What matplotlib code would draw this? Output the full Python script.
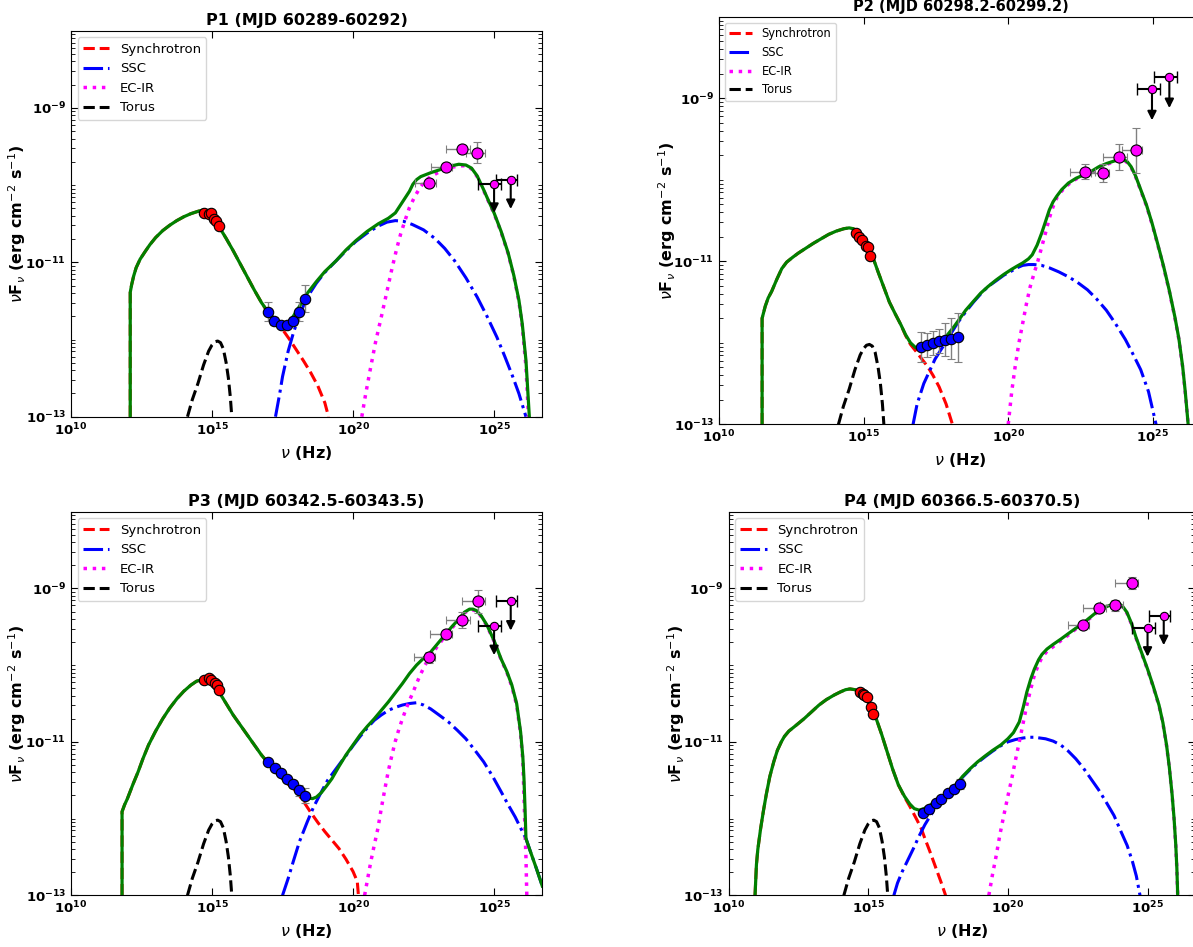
import numpy as np
import matplotlib
matplotlib.use('Agg')
import matplotlib.pyplot as plt
from matplotlib.ticker import FixedLocator, LogLocator, NullLocator, NullFormatter

# all values are log10(nu / Hz) and log10(nuFnu / erg cm^-2 s^-1)

# torus component (same in every period)
torus_x = [14.13, 14.3, 14.5, 14.7, 14.88, 15.0, 15.1, 15.2, 15.3, 15.4, 15.5, 15.58, 15.65, 15.7]
torus_y = [-13.0, -12.78, -12.57, -12.33, -12.15, -12.07, -12.03, -12.02, -12.04, -12.12, -12.3, -12.5,
           -12.75, -13.0]

# ---------------- P1 ----------------
p1_tot_x = [12.1, 12.1, 12.15, 12.22, 12.31, 12.45, 12.63, 12.8, 13.0, 13.25, 13.5, 13.75, 14.0, 14.25, 14.5,
            14.7, 14.85, 15.0, 15.25, 15.5, 15.75, 16.0, 16.25, 16.5, 16.75, 17.0, 17.25, 17.5, 17.7, 17.88,
            18.1, 18.38, 18.7, 19.0, 19.4, 19.75, 20.1, 20.5, 20.9, 21.25, 21.5, 21.75, 22.0, 22.12, 22.25,
            22.4, 22.75, 23.0, 23.25, 23.5, 23.75, 24.0, 24.2, 24.4, 24.63, 24.8, 25.0, 25.25, 25.5, 25.7,
            25.88, 26.0, 26.13, 26.25]
p1_tot_y = [-13.0, -11.39, -11.29, -11.18, -11.07, -10.96, -10.86, -10.77, -10.68, -10.59, -10.52, -10.46,
            -10.41, -10.37, -10.34, -10.32, -10.34, -10.40, -10.54, -10.69, -10.85, -11.02, -11.19, -11.36,
            -11.52, -11.65, -11.75, -11.80, -11.78, -11.70, -11.57, -11.40, -11.25, -11.12, -10.98, -10.84,
            -10.72, -10.60, -10.50, -10.43, -10.36, -10.22, -10.08, -9.99, -9.93, -9.89, -9.84, -9.81,
            -9.78, -9.75, -9.73, -9.74, -9.78, -9.88, -10.06, -10.20, -10.36, -10.60, -10.88, -11.17,
            -11.49, -11.80, -12.27, -13.0]
p1_syn_x = [12.1, 12.1, 12.15, 12.22, 12.31, 12.45, 12.63, 12.8, 13.0, 13.25, 13.5, 13.75, 14.0, 14.25, 14.5,
            14.7, 14.85, 15.0, 15.25, 15.5, 15.75, 16.0, 16.25, 16.5, 16.75, 17.0, 17.25, 17.5, 17.75, 18.0,
            18.25, 18.5, 18.75, 19.0, 19.13]
p1_syn_y = [-13.0, -11.39, -11.29, -11.18, -11.07, -10.96, -10.86, -10.77, -10.68, -10.59, -10.52, -10.46,
            -10.41, -10.37, -10.34, -10.32, -10.34, -10.40, -10.54, -10.69, -10.85, -11.02, -11.19, -11.36,
            -11.52, -11.66, -11.76, -11.87, -12.0, -12.14, -12.28, -12.43, -12.6, -12.82, -13.0]
p1_ssc_x = [17.25, 17.4, 17.5, 17.7, 17.88, 18.1, 18.38, 18.7, 19.0, 19.4, 19.75, 20.1, 20.5, 20.9, 21.2,
            21.5, 21.8, 22.1, 22.5, 22.9, 23.25, 23.6, 24.0, 24.4, 24.75, 25.1, 25.38, 25.65, 25.88, 26.13]
p1_ssc_y = [-13.0, -12.7, -12.48, -12.15, -11.92, -11.68, -11.45, -11.27, -11.13, -10.98, -10.85, -10.73,
            -10.62, -10.53, -10.48, -10.46, -10.47, -10.51, -10.58, -10.69, -10.82, -10.98, -11.2, -11.45,
            -11.7, -11.97, -12.22, -12.47, -12.70, -13.0]
p1_ec_x = [20.31, 20.45, 20.63, 20.8, 21.0, 21.2, 21.38, 21.55, 21.69, 21.85, 22.0, 22.2, 22.38, 22.55, 22.75,
           23.0, 23.25, 23.5, 23.75, 24.0, 24.2, 24.4, 24.63, 24.8, 25.0, 25.25, 25.5, 25.7, 25.88, 26.0, 26.13,
           26.22]
p1_ec_y = [-13.0, -12.7, -12.35, -12.03, -11.71, -11.38, -11.08, -10.82, -10.63, -10.45, -10.29, -10.14,
           -10.03, -9.95, -9.89, -9.84, -9.80, -9.77, -9.75, -9.75, -9.79, -9.89, -10.07, -10.21, -10.37,
           -10.61, -10.89, -11.18, -11.51, -11.83, -12.35, -13.0]
p1_opt_x = [14.73, 14.88, 14.98, 15.06, 15.15, 15.23]
p1_opt_y = [-10.36, -10.37, -10.36, -10.44, -10.46, -10.53]
p1_xr_x = [17.0, 17.19, 17.44, 17.65, 17.88, 18.1, 18.31]
p1_xr_y = [-11.64, -11.76, -11.81, -11.81, -11.76, -11.64, -11.47]
p1_xr_err = [0.12, 0.05, 0.03, 0.03, 0.05, 0.12, 0.18]
p1_gam_x = [22.69, 23.28, 23.85, 24.41]
p1_gam_y = [-9.97, -9.77, -9.53, -9.58]
p1_gam_xlo = [0.5, 0.53, 0.54, 0.41]
p1_gam_xhi = [0.25, 0.22, 0.28, 0.28]
p1_gam_err = [0.05, 0.05, 0.055, 0.14]
p1_ul_x = [25.0, 25.59]
p1_ul_y = [-9.98, -9.93]
p1_ul_xlo = [0.56, 0.52]
p1_ul_xhi = [0.25, 0.23]

# ---------------- P2 ----------------
p2_tot_x = [11.49, 11.49, 11.6, 11.7, 11.82, 12.0, 12.17, 12.34, 12.55, 12.74, 13.0, 13.26, 13.5, 13.79, 14.05,
            14.32, 14.5, 14.64, 14.8, 14.97, 15.1, 15.24, 15.4, 15.5, 15.7, 15.89, 16.1, 16.29, 16.45, 16.62,
            16.8, 16.95, 17.15, 17.34, 17.55, 17.74, 17.95, 18.13, 18.35, 18.53, 18.8, 19.05, 19.3, 19.58,
            19.85, 20.11, 20.3, 20.5, 20.7, 20.83, 21.0, 21.16, 21.3, 21.42, 21.55, 21.68, 21.85, 22.08, 22.35,
            22.61, 22.9, 23.13, 23.4, 23.66, 23.85, 23.99, 24.12, 24.25, 24.4, 24.58, 24.78, 24.97, 25.17,
            25.37, 25.57, 25.76, 25.9, 26.03, 26.12, 26.22]
p2_tot_y = [-13.0, -11.70, -11.55, -11.45, -11.37, -11.22, -11.09, -11.01, -10.95, -10.90, -10.84, -10.78,
            -10.73, -10.67, -10.63, -10.60, -10.59, -10.60, -10.63, -10.69, -10.77, -10.88, -11.03, -11.13,
            -11.32, -11.50, -11.65, -11.78, -11.90, -12.0, -12.06, -12.08, -12.08, -12.06, -12.02, -11.97,
            -11.88, -11.80, -11.69, -11.60, -11.49, -11.39, -11.31, -11.23, -11.16, -11.10, -11.06, -11.02,
            -10.97, -10.92, -10.80, -10.65, -10.50, -10.37, -10.27, -10.20, -10.12, -10.04, -9.98, -9.94,
            -9.89, -9.84, -9.80, -9.77, -9.75, -9.75, -9.78, -9.84, -9.95, -10.12, -10.31, -10.53, -10.79,
            -11.06, -11.36, -11.68, -11.95, -12.29, -12.6, -13.0]
p2_syn_x = [11.49, 11.49, 11.6, 11.7, 11.82, 12.0, 12.17, 12.34, 12.55, 12.74, 13.0, 13.26, 13.5, 13.79, 14.05,
            14.32, 14.5, 14.64, 14.8, 14.97, 15.1, 15.24, 15.4, 15.5, 15.7, 15.89, 16.1, 16.29, 16.45, 16.62,
            16.8, 16.95, 17.21, 17.4, 17.61, 17.85, 18.07]
p2_syn_y = [-13.0, -11.70, -11.55, -11.45, -11.37, -11.22, -11.09, -11.01, -10.95, -10.90, -10.84, -10.78,
            -10.73, -10.67, -10.63, -10.60, -10.59, -10.60, -10.63, -10.69, -10.77, -10.88, -11.03, -11.13,
            -11.32, -11.50, -11.65, -11.78, -11.91, -12.02, -12.1, -12.17, -12.29, -12.4, -12.54, -12.75, -13.0]
p2_ssc_x = [16.71, 16.85, 17.08, 17.3, 17.47, 17.7, 17.87, 18.05, 18.26, 18.53, 18.8, 19.05, 19.3, 19.58,
            19.85, 20.11, 20.3, 20.5, 20.7, 20.89, 21.15, 21.42, 21.75, 22.08, 22.4, 22.74, 23.05, 23.39, 23.7,
            24.05, 24.3, 24.58, 24.85, 25.11]
p2_ssc_y = [-13.0, -12.75, -12.5, -12.33, -12.2, -12.07, -11.98, -11.87, -11.75, -11.62, -11.5, -11.40,
            -11.31, -11.24, -11.17, -11.12, -11.08, -11.05, -11.04, -11.04, -11.05, -11.08, -11.13, -11.19,
            -11.26, -11.35, -11.46, -11.60, -11.76, -11.96, -12.13, -12.33, -12.6, -13.0]
p2_ec_x = [20.0, 20.12, 20.24, 20.37, 20.5, 20.63, 20.76, 20.9, 21.03, 21.16, 21.29, 21.42, 21.55, 21.68, 21.82,
           22.0, 22.21, 22.4, 22.61, 22.9, 23.13, 23.4, 23.66, 23.85, 23.99, 24.12, 24.25, 24.4, 24.58, 24.78,
           24.97, 25.17, 25.37, 25.57, 25.76, 25.9, 26.03, 26.12, 26.22]
p2_ec_y = [-13.0, -12.6, -12.29, -12.0, -11.76, -11.52, -11.31, -11.14, -10.99, -10.82, -10.65, -10.47,
           -10.33, -10.22, -10.15, -10.08, -10.02, -9.98, -9.95, -9.90, -9.85, -9.81, -9.78, -9.76, -9.76,
           -9.79, -9.85, -9.96, -10.13, -10.32, -10.54, -10.80, -11.07, -11.37, -11.69, -11.96, -12.30,
           -12.61, -13.0]
p2_opt_x = [14.74, 14.84, 14.95, 15.08, 15.16, 15.21]
p2_opt_y = [-10.65, -10.70, -10.74, -10.81, -10.82, -10.94]
p2_xr_x = [16.97, 17.18, 17.39, 17.61, 17.82, 18.03, 18.26]
p2_xr_y = [-12.05, -12.03, -12.00, -11.98, -11.96, -11.95, -11.93]
p2_xr_err = [0.18, 0.15, 0.15, 0.15, 0.2, 0.25, 0.3]
p2_gam_x = [22.67, 23.26, 23.83, 24.41]
p2_gam_y = [-9.90, -9.92, -9.72, -9.64]
p2_gam_xlo = [0.53, 0.39, 0.57, 0.49]
p2_gam_xhi = [0.33, 0.24, 0.29, 0.23]
p2_gam_err = [0.09, 0.11, 0.16, 0.28]
p2_ul_x = [24.97, 25.57]
p2_ul_y = [-8.89, -8.74]
p2_ul_xlo = [0.52, 0.53]
p2_ul_xhi = [0.27, 0.26]

# ---------------- P3 ----------------
p3_tot_x = [11.81, 11.81, 11.9, 12.0, 12.2, 12.38, 12.55, 12.75, 13.0, 13.25, 13.5, 13.75, 14.0, 14.25, 14.45,
            14.63, 14.8, 14.95, 15.1, 15.25, 15.5, 15.75, 16.0, 16.25, 16.5, 16.75, 17.0, 17.25, 17.5, 17.75,
            18.0, 18.25, 18.4, 18.56, 18.7, 18.88, 19.05, 19.25, 19.5, 19.75, 20.0, 20.25, 20.5, 20.75, 21.0,
            21.25, 21.5, 21.75, 22.0, 22.25, 22.5, 22.75, 23.0, 23.25, 23.5, 23.75, 23.95, 24.13, 24.25, 24.38,
            24.55, 24.75, 25.0, 25.25, 25.45, 25.63, 25.8, 25.94, 26.02, 26.06, 26.1, 26.13, 26.25, 26.5,
            26.71]
p3_tot_y = [-13.0, -11.91, -11.82, -11.74, -11.55, -11.39, -11.22, -11.04, -10.86, -10.70, -10.56, -10.44,
            -10.34, -10.26, -10.21, -10.19, -10.18, -10.20, -10.26, -10.35, -10.50, -10.65, -10.78, -10.91,
            -11.04, -11.17, -11.28, -11.39, -11.48, -11.56, -11.63, -11.69, -11.73, -11.74, -11.72, -11.66,
            -11.58, -11.48, -11.32, -11.17, -11.04, -10.91, -10.80, -10.70, -10.59, -10.48, -10.36, -10.24,
            -10.11, -10.0, -9.91, -9.83, -9.72, -9.61, -9.50, -9.40, -9.31, -9.27, -9.27, -9.29, -9.36, -9.48,
            -9.68, -9.92, -10.08, -10.26, -10.50, -10.87, -11.2, -11.48, -11.9, -12.26, -12.39, -12.65, -12.88]
p3_syn_x = [11.81, 11.81, 11.9, 12.0, 12.2, 12.38, 12.55, 12.75, 13.0, 13.25, 13.5, 13.75, 14.0, 14.25, 14.45,
            14.63, 14.8, 14.95, 15.1, 15.25, 15.5, 15.75, 16.0, 16.25, 16.5, 16.75, 17.0, 17.25, 17.5, 17.75,
            18.0, 18.25, 18.5, 18.75, 19.0, 19.25, 19.5, 19.75, 20.0, 20.15, 20.19]
p3_syn_y = [-13.0, -11.91, -11.82, -11.74, -11.55, -11.39, -11.22, -11.04, -10.86, -10.70, -10.56, -10.44,
            -10.34, -10.26, -10.21, -10.19, -10.18, -10.20, -10.26, -10.35, -10.50, -10.65, -10.78, -10.91,
            -11.04, -11.17, -11.28, -11.39, -11.48, -11.57, -11.65, -11.78, -11.92, -12.05, -12.17, -12.28,
            -12.39, -12.53, -12.69, -12.82, -13.0]
p3_ssc_x = [17.5, 17.7, 17.88, 18.1, 18.38, 18.6, 18.88, 19.1, 19.38, 19.6, 19.75, 20.0, 20.25, 20.5, 20.75,
            21.0, 21.25, 21.5, 21.75, 22.0, 22.25, 22.5, 22.75, 23.05, 23.38, 23.7, 24.0, 24.3, 24.63, 24.95,
            25.25, 25.5, 25.75, 25.95, 26.13, 26.25, 26.5, 26.71]
p3_ssc_y = [-13.0, -12.78, -12.56, -12.3, -12.04, -11.85, -11.65, -11.5, -11.36, -11.25, -11.18, -11.05,
            -10.93, -10.82, -10.72, -10.65, -10.59, -10.55, -10.52, -10.50, -10.49, -10.52, -10.57, -10.65,
            -10.74, -10.85, -10.96, -11.1, -11.26, -11.45, -11.65, -11.82, -11.98, -12.13, -12.26, -12.39,
            -12.65, -12.88]
p3_ec_x = [20.41, 20.52, 20.63, 20.75, 20.88, 21.0, 21.13, 21.25, 21.38, 21.5, 21.63, 21.75, 21.88, 22.0, 22.13,
           22.25, 22.38, 22.55, 22.75, 23.0, 23.25, 23.5, 23.75, 23.95, 24.13, 24.25, 24.38, 24.55, 24.75, 25.0,
           25.25, 25.45, 25.63, 25.8, 25.94, 26.02, 26.06, 26.1, 26.13, 26.16]
p3_ec_y = [-13.0, -12.78, -12.56, -12.35, -12.13, -11.87, -11.61, -11.38, -11.17, -10.99, -10.83, -10.7,
           -10.57, -10.46, -10.35, -10.24, -10.13, -10.0, -9.88, -9.75, -9.63, -9.52, -9.41, -9.32, -9.28,
           -9.28, -9.30, -9.37, -9.49, -9.69, -9.93, -10.09, -10.28, -10.52, -10.9, -11.25, -11.70, -12.2,
           -12.5, -13.0]
p3_opt_x = [14.73, 14.88, 14.98, 15.09, 15.18, 15.23]
p3_opt_y = [-10.20, -10.17, -10.20, -10.23, -10.26, -10.33]
p3_xr_x = [17.0, 17.23, 17.44, 17.65, 17.88, 18.1, 18.31]
p3_xr_y = [-11.26, -11.34, -11.41, -11.48, -11.55, -11.63, -11.70]
p3_xr_err = [0.03, 0.03, 0.03, 0.04, 0.05, 0.07, 0.1]
p3_gam_x = [22.69, 23.29, 23.85, 24.44]
p3_gam_y = [-9.90, -9.59, -9.41, -9.17]
p3_gam_xlo = [0.54, 0.56, 0.54, 0.56]
p3_gam_xhi = [0.21, 0.21, 0.28, 0.25]
p3_gam_err = [0.07, 0.05, 0.1, 0.15]
p3_ul_x = [25.0, 25.59]
p3_ul_y = [-9.49, -9.17]
p3_ul_xlo = [0.56, 0.52]
p3_ul_xhi = [0.25, 0.22]

# ---------------- P4 ----------------
p4_tot_x = [10.95, 11.0, 11.05, 11.15, 11.25, 11.35, 11.48, 11.62, 11.75, 11.89, 12.0, 12.16, 12.4, 12.7, 13.0,
            13.24, 13.5, 13.78, 14.0, 14.19, 14.35, 14.53, 14.7, 14.86, 15.05, 15.27, 15.48, 15.68, 15.88,
            16.08, 16.3, 16.49, 16.65, 16.82, 17.0, 17.16, 17.35, 17.57, 17.77, 17.97, 18.18, 18.38, 18.65,
            18.92, 19.2, 19.46, 19.75, 20.0, 20.2, 20.41, 20.55, 20.68, 20.82, 20.95, 21.1, 21.22, 21.4, 21.62,
            21.9, 22.16, 22.43, 22.7, 22.97, 23.24, 23.45, 23.65, 23.85, 23.99, 24.12, 24.26, 24.42, 24.59,
            24.8, 25.0, 25.2, 25.41, 25.55, 25.68, 25.78, 25.88, 25.95, 26.01, 26.05, 26.08]
p4_tot_y = [-13.0, -12.6, -12.4, -12.13, -11.9, -11.69, -11.45, -11.26, -11.11, -11.0, -10.93, -10.86, -10.79,
            -10.70, -10.60, -10.52, -10.45, -10.39, -10.35, -10.32, -10.31, -10.32, -10.35, -10.40, -10.51,
            -10.68, -10.90, -11.13, -11.36, -11.56, -11.71, -11.81, -11.87, -11.89, -11.87, -11.84, -11.79,
            -11.74, -11.69, -11.63, -11.54, -11.45, -11.35, -11.26, -11.18, -11.11, -11.04, -10.96, -10.88,
            -10.74, -10.55, -10.35, -10.18, -10.05, -9.93, -9.86, -9.79, -9.73, -9.66, -9.59, -9.52, -9.45,
            -9.37, -9.29, -9.25, -9.22, -9.20, -9.20, -9.24, -9.31, -9.45, -9.64, -9.85, -10.05, -10.27,
            -10.52, -10.75, -11.04, -11.33, -11.69, -12.0, -12.34, -12.65, -13.0]
p4_syn_x = [10.95, 11.0, 11.05, 11.15, 11.25, 11.35, 11.48, 11.62, 11.75, 11.89, 12.0, 12.16, 12.4, 12.7, 13.0,
            13.24, 13.5, 13.78, 14.0, 14.19, 14.35, 14.53, 14.7, 14.86, 15.05, 15.27, 15.48, 15.68, 15.88,
            16.08, 16.3, 16.49, 16.62, 16.75, 16.9, 17.03, 17.2, 17.43, 17.6, 17.77]
p4_syn_y = [-13.0, -12.6, -12.4, -12.13, -11.9, -11.69, -11.45, -11.26, -11.11, -11.0, -10.93, -10.86, -10.79,
            -10.70, -10.60, -10.52, -10.45, -10.39, -10.35, -10.32, -10.31, -10.32, -10.35, -10.40, -10.51,
            -10.68, -10.90, -11.13, -11.36, -11.56, -11.72, -11.84, -11.93, -12.02, -12.13, -12.26, -12.42,
            -12.65, -12.82, -13.0]
p4_ssc_x = [15.92, 16.05, 16.22, 16.42, 16.62, 16.82, 17.03, 17.23, 17.43, 17.7, 17.97, 18.18, 18.38, 18.65,
            18.92, 19.2, 19.46, 19.75, 20.0, 20.27, 20.54, 20.75, 20.95, 21.15, 21.35, 21.62, 21.89, 22.16,
            22.43, 22.7, 22.97, 23.24, 23.51, 23.8, 24.05, 24.27, 24.46, 24.6, 24.73]
p4_ssc_y = [-13.0, -12.84, -12.69, -12.54, -12.39, -12.23, -12.08, -11.96, -11.86, -11.75, -11.65, -11.56,
            -11.46, -11.36, -11.27, -11.19, -11.12, -11.05, -11.0, -10.97, -10.95, -10.94, -10.94, -10.95,
            -10.96, -10.99, -11.04, -11.12, -11.22, -11.34, -11.48, -11.62, -11.78, -11.96, -12.17, -12.35,
            -12.56, -12.75, -13.0]
p4_ec_x = [19.32, 19.45, 19.59, 19.72, 19.86, 20.0, 20.14, 20.27, 20.41, 20.55, 20.68, 20.82, 20.95, 21.1, 21.22,
           21.4, 21.62, 21.9, 22.16, 22.43, 22.7, 22.97, 23.24, 23.45, 23.65, 23.85, 23.99, 24.12, 24.26, 24.42,
           24.59, 24.8, 25.0, 25.2, 25.41, 25.55, 25.68, 25.78, 25.88, 25.95, 26.01, 26.05, 26.08]
p4_ec_y = [-13.0, -12.73, -12.47, -12.2, -11.95, -11.71, -11.48, -11.24, -11.0, -10.75, -10.52, -10.31,
           -10.13, -9.99, -9.90, -9.82, -9.76, -9.68, -9.61, -9.53, -9.46, -9.38, -9.30, -9.26, -9.23, -9.21,
           -9.21, -9.25, -9.32, -9.46, -9.65, -9.86, -10.06, -10.28, -10.53, -10.76, -11.05, -11.34, -11.70,
           -12.01, -12.35, -12.66, -13.0]
p4_opt_x = [14.70, 14.80, 14.86, 14.96, 15.09, 15.18]
p4_opt_y = [-10.35, -10.37, -10.39, -10.42, -10.55, -10.64]
p4_xr_x = [16.96, 17.19, 17.41, 17.62, 17.84, 18.07, 18.28]
p4_xr_y = [-11.93, -11.87, -11.80, -11.74, -11.67, -11.61, -11.55]
p4_xr_err = [0.03, 0.03, 0.03, 0.03, 0.04, 0.05, 0.06]
p4_gam_x = [22.68, 23.27, 23.85, 24.43]
p4_gam_y = [-9.48, -9.26, -9.22, -8.93]
p4_gam_xlo = [0.54, 0.57, 0.54, 0.58]
p4_gam_xhi = [0.23, 0.24, 0.27, 0.23]
p4_gam_err = [0.04, 0.04, 0.07, 0.08]
p4_ul_x = [25.0, 25.58]
p4_ul_y = [-9.51, -9.36]
p4_ul_xlo = [0.54, 0.54]
p4_ul_xhi = [0.25, 0.23]

titles = ['P1 (MJD 60289-60292)', 'P2 (MJD 60298.2-60299.2)',
          'P3 (MJD 60342.5-60343.5)', 'P4 (MJD 60366.5-60370.5)']
x_ticks = [1e10, 1e15, 1e20, 1e25]
x_ticklabels = [r'$\mathbf{10^{10}}$', r'$\mathbf{10^{15}}$', r'$\mathbf{10^{20}}$', r'$\mathbf{10^{25}}$']
y_ticks = [1e-13, 1e-11, 1e-9]
y_ticklabels = [r'$\mathbf{10^{-13}}$', r'$\mathbf{10^{-11}}$', r'$\mathbf{10^{-9}}$']
ul_arrow = 0.38  # length of the upper-limit arrows, decades


def lin(v):
    return 10.0 ** np.asarray(v, dtype=float)


def log_err(y, lo, hi):
    y = lin(y)
    return [y - y * 10.0 ** (-np.asarray(lo)), y * 10.0 ** np.asarray(hi) - y]


panels = [
    dict(tot=(p1_tot_x, p1_tot_y), syn=(p1_syn_x, p1_syn_y), ssc=(p1_ssc_x, p1_ssc_y), ec=(p1_ec_x, p1_ec_y),
         opt=(p1_opt_x, p1_opt_y), xr=(p1_xr_x, p1_xr_y, p1_xr_err),
         gam=(p1_gam_x, p1_gam_y, p1_gam_xlo, p1_gam_xhi, p1_gam_err),
         ul=(p1_ul_x, p1_ul_y, p1_ul_xlo, p1_ul_xhi)),
    dict(tot=(p2_tot_x, p2_tot_y), syn=(p2_syn_x, p2_syn_y), ssc=(p2_ssc_x, p2_ssc_y), ec=(p2_ec_x, p2_ec_y),
         opt=(p2_opt_x, p2_opt_y), xr=(p2_xr_x, p2_xr_y, p2_xr_err),
         gam=(p2_gam_x, p2_gam_y, p2_gam_xlo, p2_gam_xhi, p2_gam_err),
         ul=(p2_ul_x, p2_ul_y, p2_ul_xlo, p2_ul_xhi)),
    dict(tot=(p3_tot_x, p3_tot_y), syn=(p3_syn_x, p3_syn_y), ssc=(p3_ssc_x, p3_ssc_y), ec=(p3_ec_x, p3_ec_y),
         opt=(p3_opt_x, p3_opt_y), xr=(p3_xr_x, p3_xr_y, p3_xr_err),
         gam=(p3_gam_x, p3_gam_y, p3_gam_xlo, p3_gam_xhi, p3_gam_err),
         ul=(p3_ul_x, p3_ul_y, p3_ul_xlo, p3_ul_xhi)),
    dict(tot=(p4_tot_x, p4_tot_y), syn=(p4_syn_x, p4_syn_y), ssc=(p4_ssc_x, p4_ssc_y), ec=(p4_ec_x, p4_ec_y),
         opt=(p4_opt_x, p4_opt_y), xr=(p4_xr_x, p4_xr_y, p4_xr_err),
         gam=(p4_gam_x, p4_gam_y, p4_gam_xlo, p4_gam_xhi, p4_gam_err),
         ul=(p4_ul_x, p4_ul_y, p4_ul_xlo, p4_ul_xhi)),
]

W, H = 1193, 947
# axes boxes in pixels: left, right, top, bottom
boxes = [(71, 542, 30.7, 416.7), (719, 1202, 16.8, 424.3),
         (71, 542, 511.7, 895.3), (728.5, 1195, 511.7, 895.3)]
title_sizes = [11.5, 10.5, 11.5, 11.5]
legend_sizes = [9.5, 8.3, 9.5, 9.5]
ylabel_pads = [-1.5, -3.0, -1.5, -3.0]

fig = plt.figure(figsize=(W / 100, H / 100), dpi=100)

for i, p in enumerate(panels):
    l, r, t, b = boxes[i]
    ax = fig.add_axes([l / W, 1 - b / H, (r - l) / W, (b - t) / H])

    ax.plot(lin(p['syn'][0]), lin(p['syn'][1]), color='red', ls='--', lw=2.2, label='Synchrotron', zorder=2)
    ax.plot(lin(p['ssc'][0]), lin(p['ssc'][1]), color='blue', ls='-.', lw=2.2, label='SSC', zorder=2)
    ax.plot(lin(p['ec'][0]), lin(p['ec'][1]), color='magenta', ls=':', lw=2.5, label='EC-IR', zorder=2)
    ax.plot(lin(torus_x), lin(torus_y), color='black', ls='--', lw=2.2, label='Torus', zorder=2)
    ax.plot(lin(p['tot'][0]), lin(p['tot'][1]), color='green', ls='-', lw=2.3, zorder=3)

    # optical / UV
    ax.plot(lin(p['opt'][0]), lin(p['opt'][1]), 'o', mfc='red', mec='k', mew=0.8, ms=7.5, zorder=5)

    # X-ray
    xx, xy, xe = p['xr']
    ax.errorbar(lin(xx), lin(xy), yerr=log_err(xy, xe, xe), fmt='o', mfc='blue', mec='k', mew=0.8, ms=7.5,
                ecolor='grey', elinewidth=1, capsize=3, zorder=5)

    # gamma-ray
    gx, gy, gxlo, gxhi, ge = p['gam']
    ax.errorbar(lin(gx), lin(gy), xerr=log_err(gx, gxlo, gxhi), yerr=log_err(gy, ge, ge), fmt='o',
                mfc='magenta', mec='k', mew=0.8, ms=8, ecolor='grey', elinewidth=1, capsize=3, zorder=5)

    # upper limits: black bin bar plus a downward arrow
    ux, uy, uxlo, uxhi = p['ul']
    ax.errorbar(lin(ux), lin(uy), xerr=log_err(ux, uxlo, uxhi), fmt='none', ecolor='black', elinewidth=1.5,
                capsize=4, zorder=4)
    for x0, y0 in zip(ux, uy):
        ax.annotate('', xy=(lin(x0), lin(y0 - ul_arrow)), xytext=(lin(x0), lin(y0)),
                    arrowprops=dict(arrowstyle='-|>', color='black', lw=1.5, mutation_scale=13,
                                    shrinkA=0, shrinkB=0), zorder=4)
    ax.plot(lin(ux), lin(uy), 'o', mfc='magenta', mec='k', mew=0.8, ms=6, zorder=6)

    ax.set_xscale('log')
    ax.set_yscale('log')
    ax.set_xlim(1e10, 5e26)
    ax.set_ylim(1e-13, 1e-8)

    ax.xaxis.set_major_locator(FixedLocator(x_ticks))
    ax.set_xticklabels(x_ticklabels)
    ax.xaxis.set_minor_locator(NullLocator())
    ax.yaxis.set_major_locator(FixedLocator(y_ticks))
    ax.set_yticklabels(y_ticklabels)
    ax.yaxis.set_minor_locator(LogLocator(base=10, subs=np.arange(1, 10), numticks=20))
    ax.yaxis.set_minor_formatter(NullFormatter())
    ax.tick_params(which='both', direction='in', top=True, right=True, labelsize=9.5)
    ax.tick_params(which='major', length=5)
    ax.tick_params(which='minor', length=3)

    ax.set_title(titles[i], fontsize=title_sizes[i], fontweight='bold', pad=4)
    ax.set_xlabel(r'$\nu$ (Hz)', fontsize=11.5, fontweight='bold')
    ax.set_ylabel(r'$\nu$F$_\nu$ (erg cm$^{-2}$ s$^{-1}$)', fontsize=11.5, fontweight='bold',
                  labelpad=ylabel_pads[i])
    ax.legend(loc='upper left', fontsize=legend_sizes[i])

fig.savefig('out.png', dpi=100)
